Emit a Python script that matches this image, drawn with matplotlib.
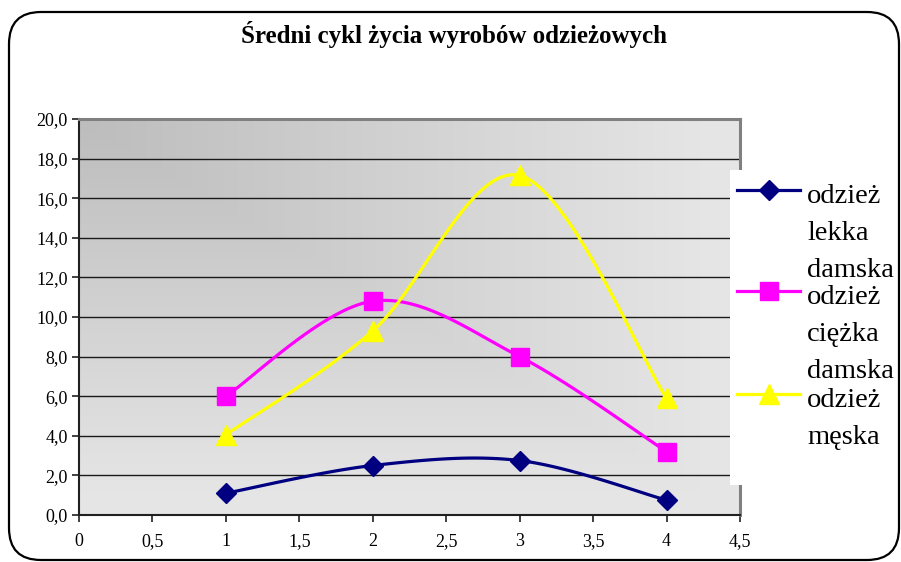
import numpy as np
import matplotlib
matplotlib.use("Agg")
import matplotlib.pyplot as plt
from matplotlib.patches import FancyBboxPatch
from matplotlib.lines import Line2D

# ---- data ----
title = "Średni cykl życia wyrobów odzieżowych"
x_vals = [1, 2, 3, 4]
lekka_damska = [1.1, 2.5, 2.75, 0.75]
ciezka_damska = [6.0, 10.8, 8.0, 3.2]
meska = [4.05, 9.3, 17.15, 5.9]
series_labels = [["odzież", "lekka", "damska"],
                 ["odzież", "ciężka", "damska"],
                 ["odzież", "męska"]]
x_ticks = [0, 0.5, 1, 1.5, 2, 2.5, 3, 3.5, 4, 4.5]
x_ticklabels = ["0", "0,5", "1", "1,5", "2", "2,5", "3", "3,5", "4", "4,5"]
y_ticks = [0, 2, 4, 6, 8, 10, 12, 14, 16, 18, 20]
y_ticklabels = ["0,0", "2,0", "4,0", "6,0", "8,0", "10,0", "12,0", "14,0", "16,0", "18,0", "20,0"]

colors = ["#000080", "#FF00FF", "#FFFF00"]
markers = ["D", "s", "^"]
msizes = [10, 13, 14]

SERIF = ["Liberation Serif", "DejaVu Serif"]
plt.rcParams['font.family'] = SERIF

W, H = 901, 562
fig = plt.figure(figsize=(W / 100, H / 100), dpi=100)
fig.patch.set_facecolor("white")

# rounded outer border
border = FancyBboxPatch((9, 2), 890, 548, boxstyle="round,pad=0,rounding_size=32",
                        transform=None, facecolor="none", edgecolor="black", lw=1.6)
fig.patches.append(border)

# plot area
L, R, T, B = 79, 740, 119, 515
ax = fig.add_axes([L / W, 1 - B / H, (R - L) / W, (B - T) / H])
ax.set_xlim(0, 4.5)
ax.set_ylim(0, 20)

# gradient background (from top-left corner)
nx, ny = 300, 200
gx = np.linspace(0, 1, nx)
gy = np.linspace(0, 1, ny)  # 0 top, 1 bottom
GX, GY = np.meshgrid(gx, gy)
t = np.maximum(GX, GY)
t = np.clip(t * 1.05, 0, 1)
c0, c1 = 0.74, 0.90
img = c0 + (c1 - c0) * t
ax.imshow(np.dstack([img, img, img]), extent=[0, 4.5, 0, 20], origin="upper",
          aspect="auto", zorder=0, interpolation="bilinear")
ax.set_xlim(0, 4.5)
ax.set_ylim(0, 20)

for yv in y_ticks[1:-1]:
    ax.axhline(yv, color="#1a1a1a", lw=1.0, zorder=1)


def smooth(xs, ys, n=40):
    # Bezier smoothing in pixel space (Catmull-Rom style control points)
    sx = (R - L) / 4.5
    sy = (B - T) / 20.0
    P = np.column_stack([np.array(xs) * sx, np.array(ys) * sy])
    out = [P[0]]
    for i in range(len(P) - 1):
        p0 = P[i - 1] if i > 0 else P[i]
        p1 = P[i]
        p2 = P[i + 1]
        p3 = P[i + 2] if i + 2 < len(P) else P[i + 1]
        c1_ = p1 + (p2 - p0) / 6.0
        c2_ = p2 - (p3 - p1) / 6.0
        tt = np.linspace(0, 1, n)[1:, None]
        seg = ((1 - tt) ** 3) * p1 + 3 * ((1 - tt) ** 2) * tt * c1_ + 3 * (1 - tt) * tt ** 2 * c2_ + tt ** 3 * p2
        out.extend(seg)
    out = np.array(out)
    return out[:, 0] / sx, out[:, 1] / sy


all_series = [lekka_damska, ciezka_damska, meska]
for ys, c, m, ms in zip(all_series, colors, markers, msizes):
    sxv, syv = smooth(x_vals, ys)
    ax.plot(sxv, syv, color=c, lw=2.3, zorder=3, solid_capstyle="round")
    ax.plot(x_vals, ys, linestyle="none", marker=m, markersize=ms, color=c,
            markeredgecolor=c, zorder=4)

ax.set_xticks(x_ticks)
ax.set_xticklabels(x_ticklabels)
ax.set_yticks(y_ticks)
ax.set_yticklabels(y_ticklabels)
ax.tick_params(axis="both", direction="out", length=5, width=1.2, color="#202020",
               labelsize=13, labelcolor="black")
ax.tick_params(axis="x", pad=8)
ax.tick_params(axis="y", pad=3)
for s in ["top", "right"]:
    ax.spines[s].set_color("#808080")
    ax.spines[s].set_linewidth(2.2)
for s in ["left", "bottom"]:
    ax.spines[s].set_color("#202020")
    ax.spines[s].set_linewidth(1.5)

# title
fig.text(454 / W, 1 - 43 / H, title, ha="center", va="baseline",
         fontsize=18, fontweight="bold", family=SERIF)

# legend (manual)
LL, LT, LR, LB = 730, 170, 901, 485
lax = fig.add_axes([LL / W, 1 - LB / H, (LR - LL) / W, (LB - LT) / H])
lax.set_xlim(0, LR - LL)
lax.set_ylim(LB - LT, 0)
lax.set_facecolor("white")
for s in lax.spines.values():
    s.set_visible(False)
lax.set_xticks([])
lax.set_yticks([])
handle_y = [20, 121, 224]
for hy, c, m, ms, lab in zip(handle_y, colors, markers, msizes, series_labels):
    lax.add_line(Line2D([7, 70], [hy, hy], color=c, lw=2.3))
    lax.plot([38.5], [hy], marker=m, markersize=ms, color=c, linestyle="none")
    for k, word in enumerate(lab):
        lax.text(77, hy + 13 + 37 * k, word, fontsize=20.5, va="baseline", ha="left",
                 family=SERIF)

fig.savefig("out.png", dpi=100)
